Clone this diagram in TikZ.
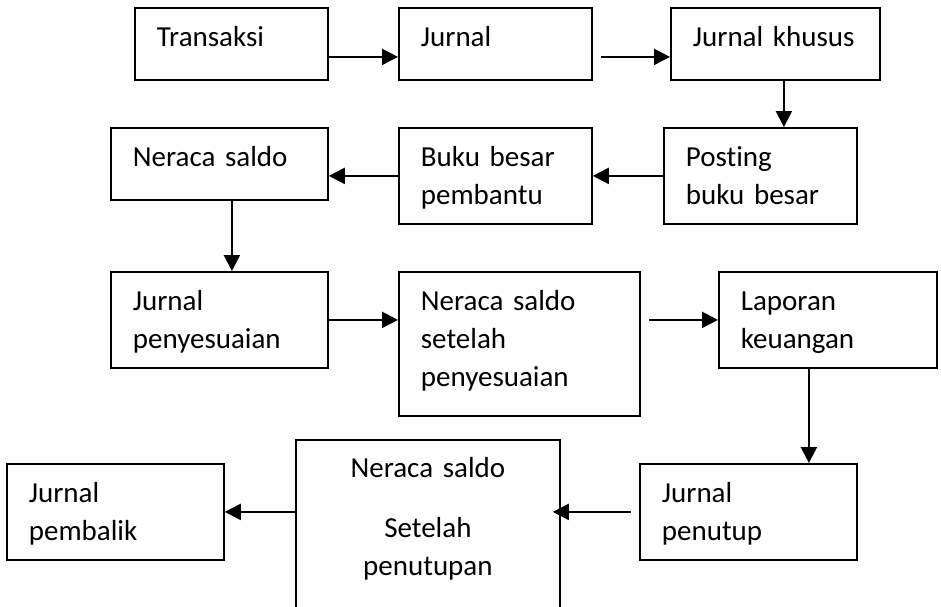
\documentclass[tikz,border=0pt]{standalone}
\usepackage{fontspec}
\setmainfont[Ligatures=NoCommon]{Carlito}
\usetikzlibrary{positioning}
\usetikzlibrary{arrows.meta}
\begin{document}
\begin{tikzpicture}[x=1pt,y=-1pt,
    stage/.style={draw,line width=1.8pt,anchor=north west,inner xsep=22pt,inner ysep=0pt,
      align=left,text height=39pt,font=\fontsize{29pt}{38pt}\selectfont},
    flow/.style={line width=2.2pt,-{Triangle[length=16pt,width=16pt]}}]
 \useasboundingbox (0,0) rectangle (941,606);
 \clip (0,0) rectangle (941,606);

 \node[stage,text width=149pt,text depth=33pt] (trans) at (134,7) {Transaksi};
 \node[stage,text width=149pt,text depth=33pt] (jur) at (398,7) {Jurnal};
 \node[stage,text width=165pt,text depth=33pt] (jkh) at (670,7) {Jurnal khusus};
 \node[stage,text width=173pt,text depth=33pt] (ns) at (110,127) {Neraca saldo};
 \node[stage,text width=149pt,text depth=57pt] (bbp) at (398,127) {Buku besar\\pembantu};
 \node[stage,text width=149pt,text depth=57pt] (post) at (663,127) {Posting\\buku besar};
 \node[stage,text width=173pt,text depth=57pt] (jpy) at (110,271) {Jurnal\\penyesuaian};
 \node[stage,text width=197pt,text depth=105pt] (nss) at (398,271) {Neraca saldo\\setelah\\penyesuaian};
 \node[stage,text width=174pt,text depth=57pt] (lap) at (718,271) {Laporan\\keuangan};
 \node[stage,text width=173pt,text depth=57pt] (jpt) at (639,463) {Jurnal\\penutup};
 \node[stage,text width=220pt,text depth=173pt,align=center,text height=38pt] (nsp) at (295,439) {Neraca saldo\\[22pt]Setelah\\penutupan};
 \node[stage,text width=173pt,text depth=57pt] (jpb) at (6,463) {Jurnal\\pembalik};

 \draw[flow] ([yshift=-13pt]trans.east) -- ([yshift=-13pt]jur.west);
 \draw[flow] ([xshift=8pt,yshift=-13pt]jur.east) -- ([yshift=-13pt]jkh.west);
 \draw[flow] ([xshift=8.5pt]jkh.south) -- ([xshift=8.5pt]jkh.south |- post.north);
 \draw[flow] (post.west) -- (bbp.east);
 \draw[flow] (bbp.west) -- (bbp.west -| ns.east);
 \draw[flow] ([xshift=12.5pt]ns.south) -- ([xshift=12.5pt]jpy.north);
 \draw[flow] (jpy.east) -- (jpy.east -| nss.west);
 \draw[flow] ([xshift=8pt]nss.east |- lap.west) -- (lap.west);
 \draw[flow] ([xshift=-19pt]lap.south) -- ([xshift=-19pt]lap.south |- jpt.north);
 \draw[flow] ([xshift=-8pt]jpt.west) -- ([xshift=-8pt]jpt.west -| nsp.east);
 \draw[flow] (jpb.east -| nsp.west) -- (jpb.east);
\end{tikzpicture}
\end{document}
